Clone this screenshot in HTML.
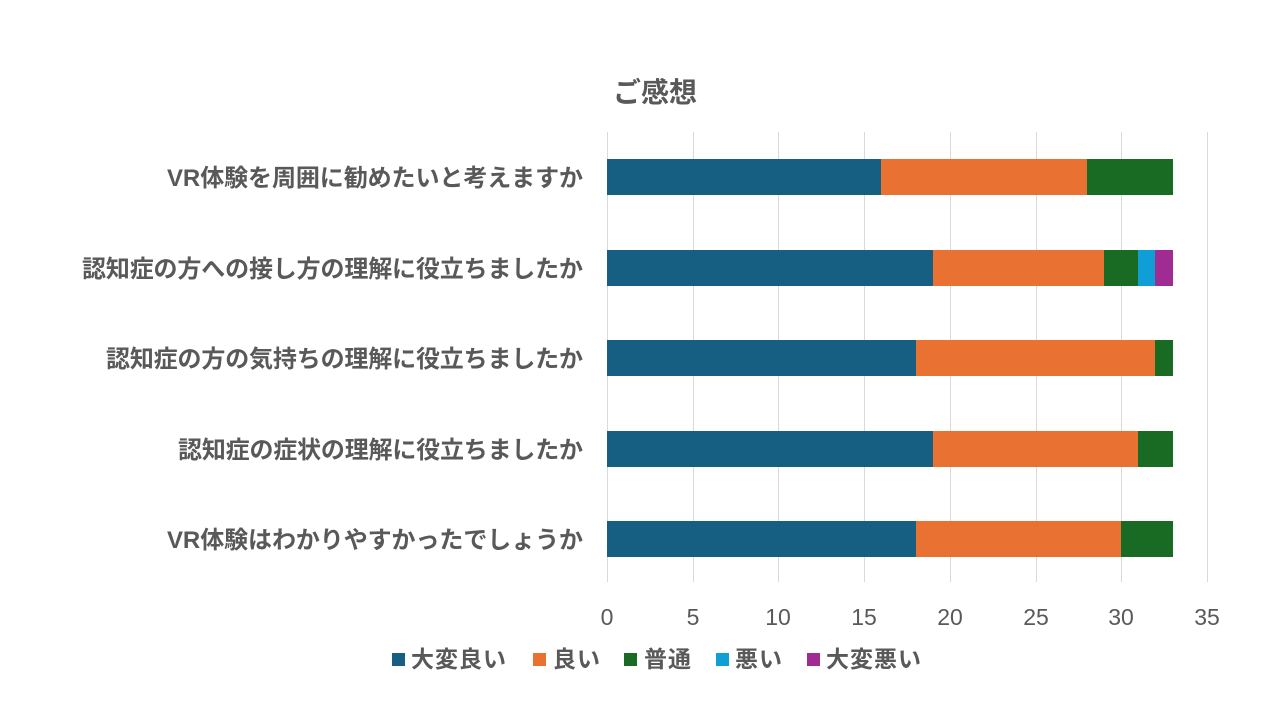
<!DOCTYPE html>
<html><head><meta charset="utf-8"><style>
body{margin:0;background:#fff;}
text{font-family:"Liberation Sans","Noto Sans CJK JP",sans-serif;fill:#595959;}
</style></head><body>
<svg width="1280" height="720" xmlns="http://www.w3.org/2000/svg">
<rect width="1280" height="720" fill="#fff"/>
<text x="613" y="102" font-size="28" font-weight="bold" textLength="84" lengthAdjust="spacingAndGlyphs">ご感想</text>
<g stroke="#d9d9d9" stroke-width="1">
<line x1="607.5" y1="132" x2="607.5" y2="582"/>
<line x1="693.5" y1="132" x2="693.5" y2="582"/>
<line x1="778.5" y1="132" x2="778.5" y2="582"/>
<line x1="864.5" y1="132" x2="864.5" y2="582"/>
<line x1="950.5" y1="132" x2="950.5" y2="582"/>
<line x1="1036.5" y1="132" x2="1036.5" y2="582"/>
<line x1="1121.5" y1="132" x2="1121.5" y2="582"/>
<line x1="1207.5" y1="132" x2="1207.5" y2="582"/>
</g>
<g font-size="23" text-anchor="middle">
<text x="607" y="625">0</text><text x="693" y="625">5</text><text x="778" y="625">10</text><text x="864" y="625">15</text><text x="950" y="625">20</text><text x="1036" y="625">25</text><text x="1121" y="625">30</text><text x="1207" y="625">35</text>
</g>
<g font-size="24" font-weight="bold" lengthAdjust="spacingAndGlyphs">
<text x="167" y="186" textLength="416">VR体験を周囲に勧めたいと考えますか</text>
<text x="82" y="277" textLength="501">認知症の方への接し方の理解に役立ちましたか</text>
<text x="106" y="367" textLength="477">認知症の方の気持ちの理解に役立ちましたか</text>
<text x="178" y="458" textLength="405">認知症の症状の理解に役立ちましたか</text>
<text x="167" y="548" textLength="416">VR体験はわかりやすかったでしょうか</text>
</g>
<rect x="607" y="159" width="274" height="36" fill="#175E83"/>
<rect x="881" y="159" width="206" height="36" fill="#E97132"/>
<rect x="1087" y="159" width="86" height="36" fill="#196B24"/>
<rect x="607" y="250" width="326" height="36" fill="#175E83"/>
<rect x="933" y="250" width="171" height="36" fill="#E97132"/>
<rect x="1104" y="250" width="34" height="36" fill="#196B24"/>
<rect x="1138" y="250" width="17" height="36" fill="#0F9ED5"/>
<rect x="1155" y="250" width="18" height="36" fill="#A02B93"/>
<rect x="607" y="340" width="309" height="36" fill="#175E83"/>
<rect x="916" y="340" width="239" height="36" fill="#E97132"/>
<rect x="1155" y="340" width="18" height="36" fill="#196B24"/>
<rect x="607" y="431" width="326" height="36" fill="#175E83"/>
<rect x="933" y="431" width="205" height="36" fill="#E97132"/>
<rect x="1138" y="431" width="35" height="36" fill="#196B24"/>
<rect x="607" y="521" width="309" height="36" fill="#175E83"/>
<rect x="916" y="521" width="205" height="36" fill="#E97132"/>
<rect x="1121" y="521" width="52" height="36" fill="#196B24"/>
<g font-size="23" font-weight="bold" lengthAdjust="spacingAndGlyphs">
<rect x="392" y="653" width="13" height="13" fill="#175E83"/><text x="411" y="667" textLength="95">大変良い</text>
<rect x="533" y="653" width="13" height="13" fill="#E97132"/><text x="553" y="667" textLength="47">良い</text>
<rect x="624" y="653" width="13" height="13" fill="#196B24"/><text x="644" y="667" textLength="47">普通</text>
<rect x="716" y="653" width="13" height="13" fill="#0F9ED5"/><text x="735" y="667" textLength="47">悪い</text>
<rect x="807" y="653" width="13" height="13" fill="#A02B93"/><text x="826" y="667" textLength="95">大変悪い</text>
</g>
</svg>
</body></html>
